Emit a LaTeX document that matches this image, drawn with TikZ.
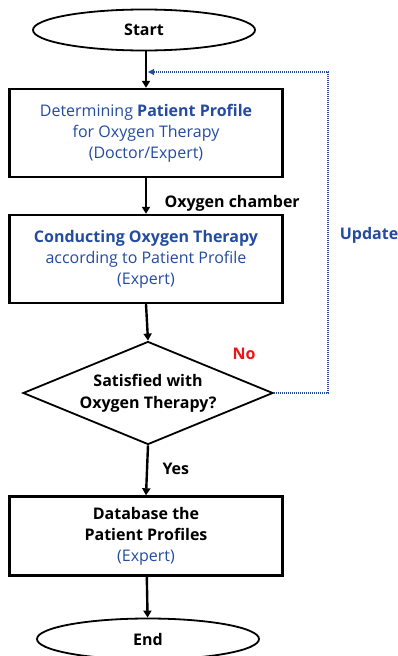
\documentclass[tikz,border=0pt]{standalone}
\usepackage{fontspec}
\setmainfont{Open Sans}
\usetikzlibrary{shapes.geometric,arrows.meta}
\definecolor{flowblue}{RGB}{35,75,160}
\definecolor{flowred}{RGB}{240,20,20}
\tikzset{
  termnode/.style={ellipse, draw=black, line width=1.8pt, minimum width=222pt, minimum height=41pt, font=\fontsize{16}{21}\selectfont\bfseries},
  procbox/.style={rectangle, draw=black, line width=2.4pt, minimum width=273pt, align=center, font=\fontsize{16}{21}\selectfont},
  decnode/.style={diamond, draw=black, line width=1.8pt, minimum width=250pt, minimum height=103pt, inner sep=0pt, aspect=2.45, align=center, font=\fontsize{16}{22}\selectfont\bfseries},
  flowarrow/.style={line width=2.4pt, -{Triangle[length=7pt,width=8pt]}},
  backarrow/.style={flowblue, line width=1.1pt, dash pattern=on 1.4pt off 0.6pt, -{Triangle[length=6pt,width=6pt]}},
  edgelabel/.style={font=\fontsize{16}{21}\selectfont\bfseries}
}
\begin{document}
\begin{tikzpicture}[x=1pt, y=-1pt]
        \useasboundingbox (0,0) rectangle (398,656);
        \node [termnode] (start) at (144,30) {Start};
        \node [procbox, minimum height=88pt, text=flowblue] (profile) at (146,133) {Determining \textbf{Patient Profile}\\for Oxygen Therapy\\(Doctor/Expert)};
        \node [procbox, minimum height=88pt, text=flowblue] (therapy) at (146,259) {\textbf{Conducting Oxygen Therapy}\\according to Patient Profile\\(Expert)};
        \node [decnode] (check) at (148,393) {Satisfied with\\Oxygen Therapy?};
        \node [procbox, minimum height=79pt] (database) at (146,536) {\textbf{Database the}\\\textbf{Patient Profiles}\\\textcolor{flowblue}{(Expert)}};
        \node [termnode] (end) at (148,639) {End};
        % main flow
        \draw [flowarrow] (start.south -| profile.north) -- (profile.north);
        \draw [flowarrow] (profile) -- (therapy);
        \draw [flowarrow] (therapy.south) -- (check.north);
        \draw [flowarrow] (check.south) -- (database.north);
        \draw [flowarrow] (database) -- (end);
        % feedback loop
        \coordinate (loopin) at (148,72);
        \draw [backarrow] (check.east) -- (328,393) -- (328,72) -- (loopin);
        % labels
        \node [edgelabel, anchor=west] (chamber) at (161,203) {Oxygen chamber};
        \node [edgelabel, anchor=west] (yes) at (159,469) {Yes};
        \node [edgelabel, text=flowred] (no) at (244,354) {No};
        \node [edgelabel, text=flowblue] (update) at (369,235) {Update};
\end{tikzpicture}
\end{document}
